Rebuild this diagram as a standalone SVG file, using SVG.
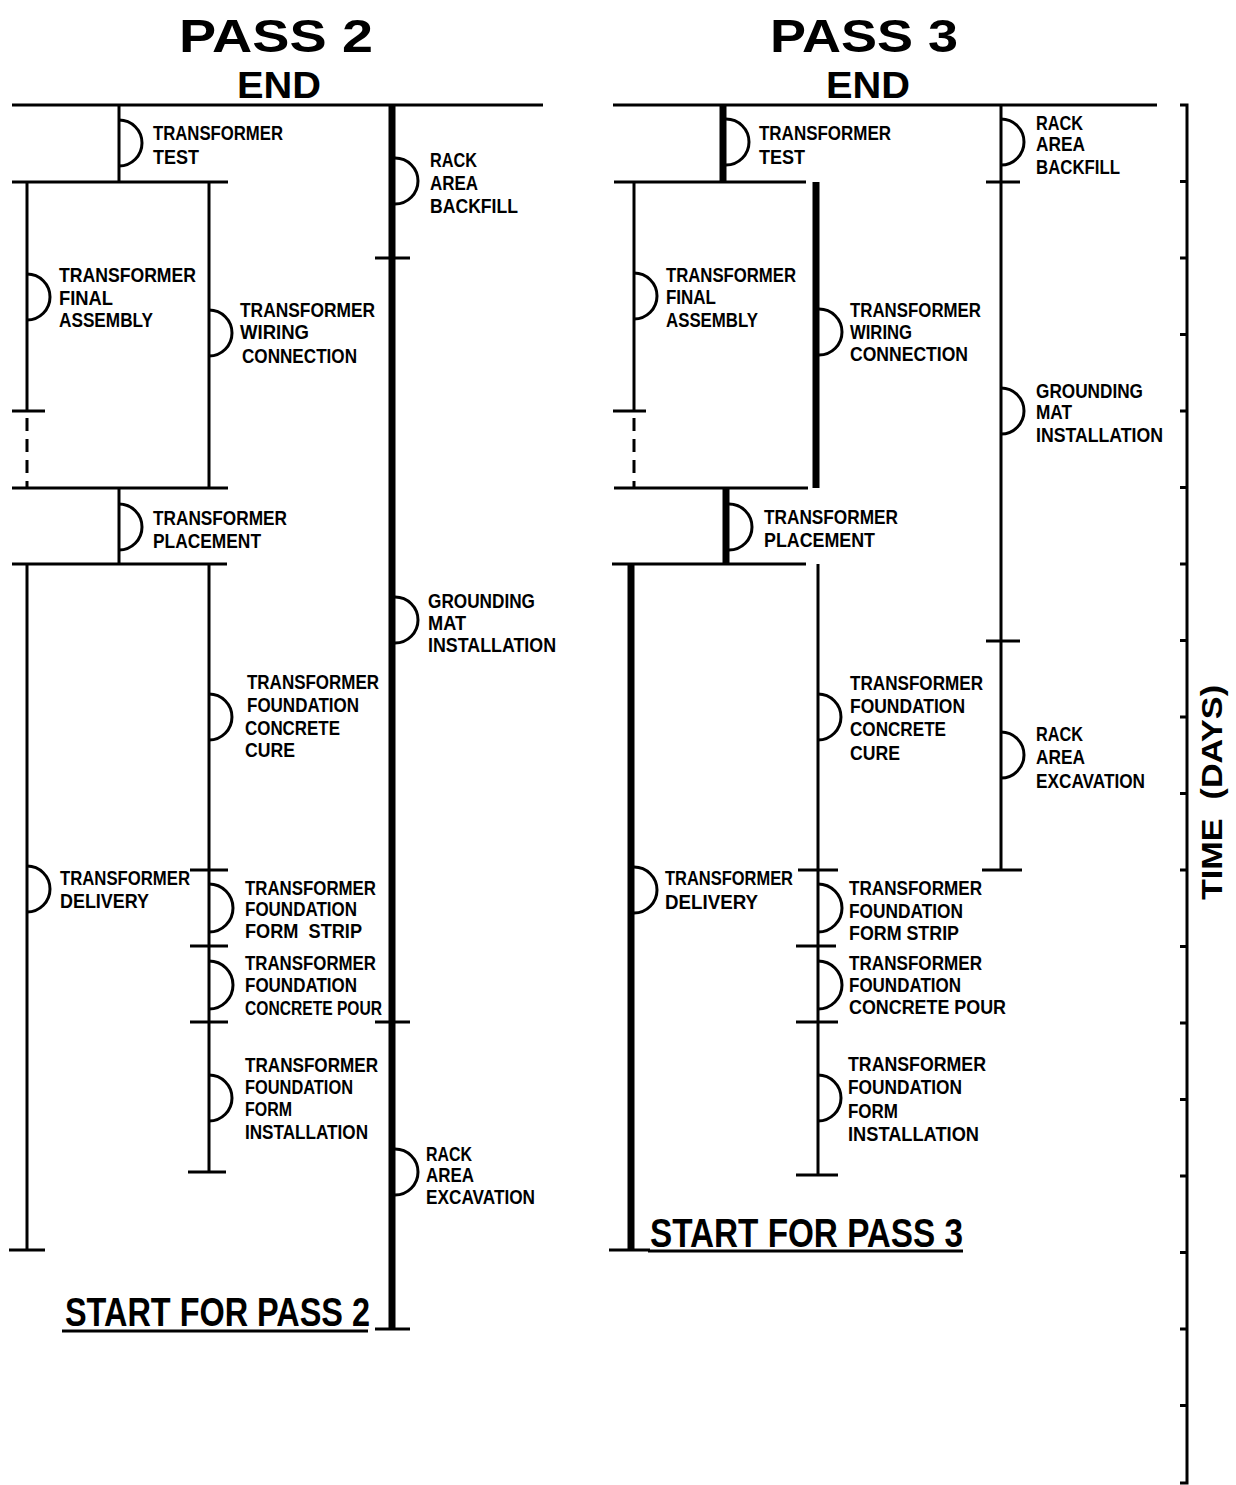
<svg xmlns="http://www.w3.org/2000/svg" width="1236" height="1485" viewBox="0 0 1236 1485">
<style>
.ln{stroke:#000;stroke-width:3;fill:none;stroke-linecap:butt}
.tk{stroke:#000;stroke-width:7;fill:none}
.ds{stroke:#000;stroke-width:3;fill:none;stroke-dasharray:13 8}
.arc{stroke:#000;stroke-width:3;fill:none}
text{font-family:"Liberation Sans",Arial,sans-serif;font-weight:bold;fill:#000}
.lb{font-size:21px}
.ttl{font-size:46px}
.end{font-size:36px}
.st{font-size:40px}
.ax{font-size:30px}
</style>
<rect width="1236" height="1485" fill="#fff"/>

<g id="titles">
<text class="ttl" x="179" y="52" textLength="194" lengthAdjust="spacingAndGlyphs">PASS 2</text>
<text class="end" x="237" y="98" textLength="84" lengthAdjust="spacingAndGlyphs">END</text>
<text class="ttl" x="770" y="52" textLength="188" lengthAdjust="spacingAndGlyphs">PASS 3</text>
<text class="end" x="826" y="98" textLength="84" lengthAdjust="spacingAndGlyphs">END</text>
</g>

<g id="connectors">
<!-- PASS 2 -->
<line class="ln" x1="12" y1="105" x2="543" y2="105"/>
<line class="ln" x1="12" y1="182" x2="228" y2="182"/>
<line class="ln" x1="12" y1="488" x2="228" y2="488"/>
<line class="ln" x1="12" y1="564" x2="227" y2="564"/>
<line class="ln" x1="119" y1="105" x2="119" y2="182"/>
<line class="ln" x1="27" y1="182" x2="27" y2="411"/>
<line class="ds" x1="27" y1="418" x2="27" y2="488"/>
<line class="ln" x1="12" y1="411" x2="45" y2="411"/>
<line class="ln" x1="209" y1="182" x2="209" y2="488"/>
<line class="ln" x1="119" y1="488" x2="119" y2="564"/>
<line class="ln" x1="27" y1="564" x2="27" y2="1250"/>
<line class="ln" x1="9" y1="1250" x2="45" y2="1250"/>
<line class="ln" x1="209" y1="564" x2="209" y2="1172"/>
<line class="ln" x1="190" y1="870" x2="228" y2="870"/>
<line class="ln" x1="190" y1="946" x2="228" y2="946"/>
<line class="ln" x1="190" y1="1022" x2="228" y2="1022"/>
<line class="ln" x1="188" y1="1172" x2="226" y2="1172"/>
<line class="tk" x1="392" y1="105" x2="392" y2="1329"/>
<line class="ln" x1="375" y1="258" x2="410" y2="258"/>
<line class="ln" x1="375" y1="1022" x2="410" y2="1022"/>
<line class="ln" x1="375" y1="1329" x2="410" y2="1329"/>
<line class="ln" x1="62" y1="1331" x2="368" y2="1331"/>
<!-- PASS 3 -->
<line class="ln" x1="613" y1="105" x2="1157" y2="105"/>
<line class="ln" x1="614" y1="182" x2="806" y2="182"/>
<line class="ln" x1="614" y1="488" x2="808" y2="488"/>
<line class="ln" x1="612" y1="564" x2="806" y2="564"/>
<line class="tk" x1="723" y1="105" x2="723" y2="182"/>
<line class="ln" x1="634" y1="182" x2="634" y2="411"/>
<line class="ds" x1="634" y1="418" x2="634" y2="488"/>
<line class="ln" x1="613" y1="411" x2="646" y2="411"/>
<line class="tk" x1="816" y1="182" x2="816" y2="488"/>
<line class="tk" x1="726" y1="488" x2="726" y2="564"/>
<line class="tk" x1="631" y1="564" x2="631" y2="1250"/>
<line class="ln" x1="609" y1="1250" x2="650" y2="1250"/>
<line class="ln" x1="818" y1="564" x2="818" y2="1175"/>
<line class="ln" x1="798" y1="870" x2="838" y2="870"/>
<line class="ln" x1="796" y1="946" x2="836" y2="946"/>
<line class="ln" x1="796" y1="1022" x2="838" y2="1022"/>
<line class="ln" x1="796" y1="1175" x2="838" y2="1175"/>
<line class="ln" x1="1001" y1="105" x2="1001" y2="870"/>
<line class="ln" x1="986" y1="182" x2="1020" y2="182"/>
<line class="ln" x1="986" y1="641" x2="1020" y2="641"/>
<line class="ln" x1="982" y1="870" x2="1022" y2="870"/>
<line class="ln" x1="648" y1="1251" x2="963" y2="1251"/>
</g>

<g id="time-axis">
<path class="ln" d="M1180 105 H1187 V1483 H1180"/>
<path class="ln" d="M1180 181.5H1187M1180 258H1187M1180 334.5H1187M1180 411H1187M1180 487.5H1187M1180 564H1187M1180 640.5H1187M1180 717H1187M1180 793.5H1187M1180 870H1187M1180 946.5H1187M1180 1023H1187M1180 1099.5H1187M1180 1176H1187M1180 1252.5H1187M1180 1329H1187M1180 1405.5H1187"/>
<text class="ax" transform="translate(1222,900) rotate(-90)" x="0" y="0" textLength="215" lengthAdjust="spacingAndGlyphs" xml:space="preserve">TIME  (DAYS)</text>
</g>

<!-- PASS 2 nodes -->
<g id="p2-transformer-test">
<path class="arc" d="M119 120 A23 23 0 0 1 119 166"/>
<text class="lb" x="153" y="140" textLength="130" lengthAdjust="spacingAndGlyphs">TRANSFORMER</text>
<text class="lb" x="153" y="164" textLength="46" lengthAdjust="spacingAndGlyphs">TEST</text>
</g>
<g id="p2-rack-area-backfill">
<path class="arc" d="M395 158 A23 23 0 0 1 395 204"/>
<text class="lb" x="430" y="167" textLength="47" lengthAdjust="spacingAndGlyphs">RACK</text>
<text class="lb" x="430" y="190" textLength="48" lengthAdjust="spacingAndGlyphs">AREA</text>
<text class="lb" x="430" y="213" textLength="88" lengthAdjust="spacingAndGlyphs">BACKFILL</text>
</g>
<g id="p2-transformer-final-assembly">
<path class="arc" d="M27 274 A23 23 0 0 1 27 320"/>
<text class="lb" x="59" y="282" textLength="137" lengthAdjust="spacingAndGlyphs">TRANSFORMER</text>
<text class="lb" x="59" y="305" textLength="54" lengthAdjust="spacingAndGlyphs">FINAL</text>
<text class="lb" x="59" y="327" textLength="94" lengthAdjust="spacingAndGlyphs">ASSEMBLY</text>
</g>
<g id="p2-transformer-wiring-connection">
<path class="arc" d="M209 310 A23 23 0 0 1 209 356"/>
<text class="lb" x="240" y="317" textLength="135" lengthAdjust="spacingAndGlyphs">TRANSFORMER</text>
<text class="lb" x="240" y="339" textLength="69" lengthAdjust="spacingAndGlyphs">WIRING</text>
<text class="lb" x="242" y="363" textLength="115" lengthAdjust="spacingAndGlyphs">CONNECTION</text>
</g>
<g id="p2-transformer-placement">
<path class="arc" d="M119 504 A23 23 0 0 1 119 550"/>
<text class="lb" x="153" y="525" textLength="134" lengthAdjust="spacingAndGlyphs">TRANSFORMER</text>
<text class="lb" x="153" y="548" textLength="108" lengthAdjust="spacingAndGlyphs">PLACEMENT</text>
</g>
<g id="p2-grounding-mat-installation">
<path class="arc" d="M395 597 A23 23 0 0 1 395 643"/>
<text class="lb" x="428" y="608" textLength="107" lengthAdjust="spacingAndGlyphs">GROUNDING</text>
<text class="lb" x="428" y="630" textLength="38" lengthAdjust="spacingAndGlyphs">MAT</text>
<text class="lb" x="428" y="652" textLength="128" lengthAdjust="spacingAndGlyphs">INSTALLATION</text>
</g>
<g id="p2-foundation-concrete-cure">
<path class="arc" d="M209 694 A23 23 0 0 1 209 740"/>
<text class="lb" x="247" y="689" textLength="132" lengthAdjust="spacingAndGlyphs">TRANSFORMER</text>
<text class="lb" x="247" y="712" textLength="112" lengthAdjust="spacingAndGlyphs">FOUNDATION</text>
<text class="lb" x="245" y="735" textLength="95" lengthAdjust="spacingAndGlyphs">CONCRETE</text>
<text class="lb" x="245" y="757" textLength="50" lengthAdjust="spacingAndGlyphs">CURE</text>
</g>
<g id="p2-transformer-delivery">
<path class="arc" d="M27 866 A23 23 0 0 1 27 912"/>
<text class="lb" x="60" y="885" textLength="130" lengthAdjust="spacingAndGlyphs">TRANSFORMER</text>
<text class="lb" x="60" y="908" textLength="89" lengthAdjust="spacingAndGlyphs">DELIVERY</text>
</g>
<g id="p2-foundation-form-strip">
<path class="arc" d="M209 884 A24 24 0 0 1 209 932"/>
<text class="lb" x="245" y="895" textLength="131" lengthAdjust="spacingAndGlyphs">TRANSFORMER</text>
<text class="lb" x="245" y="916" textLength="112" lengthAdjust="spacingAndGlyphs">FOUNDATION</text>
<text class="lb" x="245" y="938" textLength="117" lengthAdjust="spacingAndGlyphs" xml:space="preserve">FORM  STRIP</text>
</g>
<g id="p2-foundation-concrete-pour">
<path class="arc" d="M209 961 A24 24 0 0 1 209 1009"/>
<text class="lb" x="245" y="970" textLength="131" lengthAdjust="spacingAndGlyphs">TRANSFORMER</text>
<text class="lb" x="245" y="992" textLength="112" lengthAdjust="spacingAndGlyphs">FOUNDATION</text>
<text class="lb" x="245" y="1015" textLength="137" lengthAdjust="spacingAndGlyphs">CONCRETE POUR</text>
</g>
<g id="p2-foundation-form-installation">
<path class="arc" d="M209 1075 A23 23 0 0 1 209 1121"/>
<text class="lb" x="245" y="1072" textLength="133" lengthAdjust="spacingAndGlyphs">TRANSFORMER</text>
<text class="lb" x="245" y="1094" textLength="108" lengthAdjust="spacingAndGlyphs">FOUNDATION</text>
<text class="lb" x="245" y="1116" textLength="47" lengthAdjust="spacingAndGlyphs">FORM</text>
<text class="lb" x="245" y="1139" textLength="123" lengthAdjust="spacingAndGlyphs">INSTALLATION</text>
</g>
<g id="p2-rack-area-excavation">
<path class="arc" d="M395 1149 A23 23 0 0 1 395 1195"/>
<text class="lb" x="426" y="1161" textLength="46" lengthAdjust="spacingAndGlyphs">RACK</text>
<text class="lb" x="426" y="1182" textLength="48" lengthAdjust="spacingAndGlyphs">AREA</text>
<text class="lb" x="426" y="1204" textLength="109" lengthAdjust="spacingAndGlyphs">EXCAVATION</text>
</g>
<g id="p2-start">
<text class="st" x="65" y="1326" textLength="305" lengthAdjust="spacingAndGlyphs">START FOR PASS 2</text>
</g>

<!-- PASS 3 nodes -->
<g id="p3-transformer-test">
<path class="arc" d="M726 119 A23 23 0 0 1 726 165"/>
<text class="lb" x="759" y="140" textLength="132" lengthAdjust="spacingAndGlyphs">TRANSFORMER</text>
<text class="lb" x="759" y="164" textLength="46" lengthAdjust="spacingAndGlyphs">TEST</text>
</g>
<g id="p3-rack-area-backfill">
<path class="arc" d="M1001 119 A23 23 0 0 1 1001 165"/>
<text class="lb" x="1036" y="130" textLength="47" lengthAdjust="spacingAndGlyphs">RACK</text>
<text class="lb" x="1036" y="151" textLength="49" lengthAdjust="spacingAndGlyphs">AREA</text>
<text class="lb" x="1036" y="174" textLength="84" lengthAdjust="spacingAndGlyphs">BACKFILL</text>
</g>
<g id="p3-transformer-final-assembly">
<path class="arc" d="M634 273 A23 23 0 0 1 634 319"/>
<text class="lb" x="666" y="282" textLength="130" lengthAdjust="spacingAndGlyphs">TRANSFORMER</text>
<text class="lb" x="666" y="304" textLength="50" lengthAdjust="spacingAndGlyphs">FINAL</text>
<text class="lb" x="666" y="327" textLength="92" lengthAdjust="spacingAndGlyphs">ASSEMBLY</text>
</g>
<g id="p3-transformer-wiring-connection">
<path class="arc" d="M819 309 A23 23 0 0 1 819 355"/>
<text class="lb" x="850" y="317" textLength="131" lengthAdjust="spacingAndGlyphs">TRANSFORMER</text>
<text class="lb" x="850" y="339" textLength="62" lengthAdjust="spacingAndGlyphs">WIRING</text>
<text class="lb" x="850" y="361" textLength="118" lengthAdjust="spacingAndGlyphs">CONNECTION</text>
</g>
<g id="p3-grounding-mat-installation">
<path class="arc" d="M1001 388 A23 23 0 0 1 1001 434"/>
<text class="lb" x="1036" y="398" textLength="107" lengthAdjust="spacingAndGlyphs">GROUNDING</text>
<text class="lb" x="1036" y="419" textLength="36" lengthAdjust="spacingAndGlyphs">MAT</text>
<text class="lb" x="1036" y="442" textLength="127" lengthAdjust="spacingAndGlyphs">INSTALLATION</text>
</g>
<g id="p3-transformer-placement">
<path class="arc" d="M729 504 A23 23 0 0 1 729 550"/>
<text class="lb" x="764" y="524" textLength="134" lengthAdjust="spacingAndGlyphs">TRANSFORMER</text>
<text class="lb" x="764" y="547" textLength="111" lengthAdjust="spacingAndGlyphs">PLACEMENT</text>
</g>
<g id="p3-foundation-concrete-cure">
<path class="arc" d="M818 694 A23 23 0 0 1 818 740"/>
<text class="lb" x="850" y="690" textLength="133" lengthAdjust="spacingAndGlyphs">TRANSFORMER</text>
<text class="lb" x="850" y="713" textLength="115" lengthAdjust="spacingAndGlyphs">FOUNDATION</text>
<text class="lb" x="850" y="736" textLength="96" lengthAdjust="spacingAndGlyphs">CONCRETE</text>
<text class="lb" x="850" y="760" textLength="50" lengthAdjust="spacingAndGlyphs">CURE</text>
</g>
<g id="p3-rack-area-excavation">
<path class="arc" d="M1001 732 A23 23 0 0 1 1001 778"/>
<text class="lb" x="1036" y="741" textLength="47" lengthAdjust="spacingAndGlyphs">RACK</text>
<text class="lb" x="1036" y="764" textLength="49" lengthAdjust="spacingAndGlyphs">AREA</text>
<text class="lb" x="1036" y="788" textLength="109" lengthAdjust="spacingAndGlyphs">EXCAVATION</text>
</g>
<g id="p3-transformer-delivery">
<path class="arc" d="M634 867 A23 23 0 0 1 634 913"/>
<text class="lb" x="665" y="885" textLength="128" lengthAdjust="spacingAndGlyphs">TRANSFORMER</text>
<text class="lb" x="665" y="909" textLength="93" lengthAdjust="spacingAndGlyphs">DELIVERY</text>
</g>
<g id="p3-foundation-form-strip">
<path class="arc" d="M818 884 A24 24 0 0 1 818 932"/>
<text class="lb" x="849" y="895" textLength="133" lengthAdjust="spacingAndGlyphs">TRANSFORMER</text>
<text class="lb" x="849" y="918" textLength="114" lengthAdjust="spacingAndGlyphs">FOUNDATION</text>
<text class="lb" x="849" y="940" textLength="110" lengthAdjust="spacingAndGlyphs">FORM STRIP</text>
</g>
<g id="p3-foundation-concrete-pour">
<path class="arc" d="M818 961 A24 24 0 0 1 818 1009"/>
<text class="lb" x="849" y="970" textLength="133" lengthAdjust="spacingAndGlyphs">TRANSFORMER</text>
<text class="lb" x="849" y="992" textLength="112" lengthAdjust="spacingAndGlyphs">FOUNDATION</text>
<text class="lb" x="849" y="1014" textLength="157" lengthAdjust="spacingAndGlyphs">CONCRETE POUR</text>
</g>
<g id="p3-foundation-form-installation">
<path class="arc" d="M818 1075 A23 23 0 0 1 818 1121"/>
<text class="lb" x="848" y="1071" textLength="138" lengthAdjust="spacingAndGlyphs">TRANSFORMER</text>
<text class="lb" x="848" y="1094" textLength="114" lengthAdjust="spacingAndGlyphs">FOUNDATION</text>
<text class="lb" x="848" y="1118" textLength="50" lengthAdjust="spacingAndGlyphs">FORM</text>
<text class="lb" x="848" y="1141" textLength="131" lengthAdjust="spacingAndGlyphs">INSTALLATION</text>
</g>
<g id="p3-start">
<text class="st" x="650" y="1247" textLength="313" lengthAdjust="spacingAndGlyphs">START FOR PASS 3</text>
</g>
</svg>
